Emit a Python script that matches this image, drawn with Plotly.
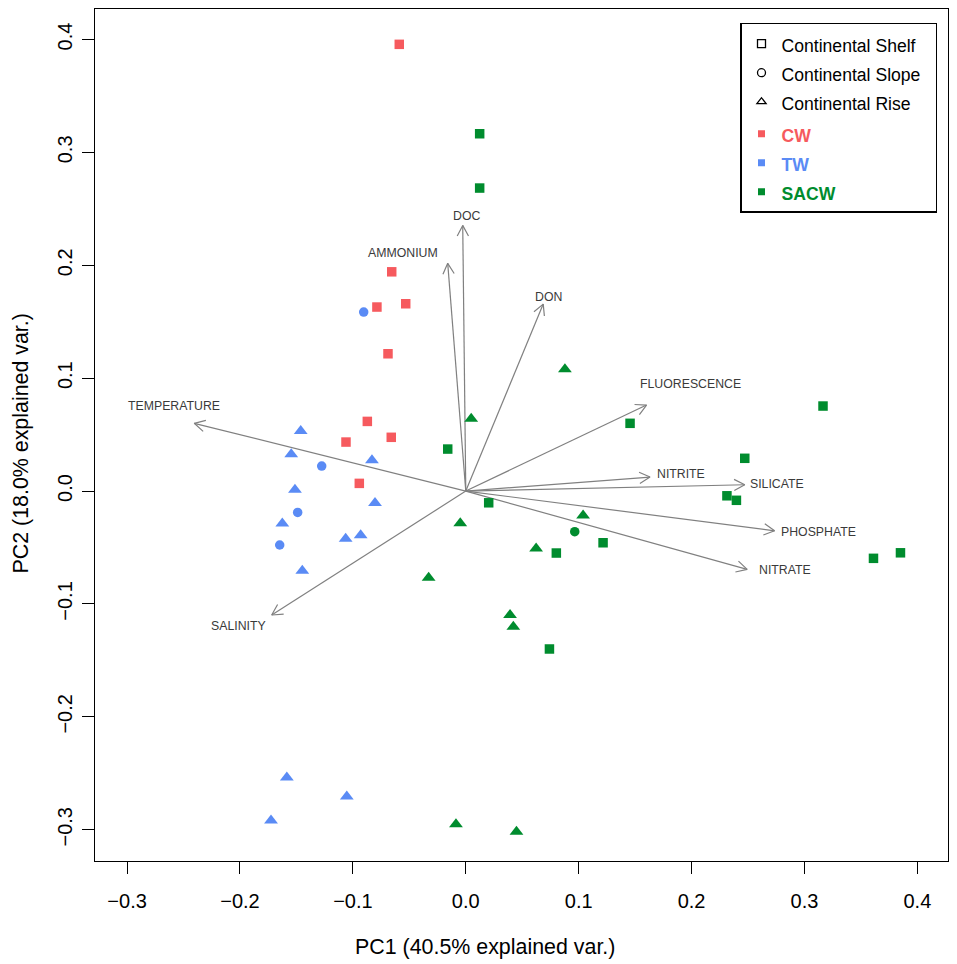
import math
import plotly.graph_objects as go

# PCA scores (PC1, PC2), water mass and shelf zone of each sample
pc1 = [-0.0589, -0.0656, -0.0787, -0.0532, -0.0689, -0.0872, -0.1061, -0.0660, -0.0943,
       -0.0904, -0.1276, -0.1489, -0.1648,
       -0.1462, -0.1546, -0.0831, -0.1513, -0.0804, -0.1625, -0.1064, -0.0931, -0.1448,
       -0.1585, -0.1054, -0.1725,
       0.0123, 0.0123, -0.0160, 0.0203, 0.1455, 0.3164, 0.2471, 0.2313, 0.2397, 0.1216,
       0.0802, 0.3611, 0.3850, 0.0741,
       0.0965,
       0.0878, 0.0048, -0.0049, 0.1039, 0.0623, -0.0329, 0.0392, 0.0421, -0.0087, 0.0449]
pc2 = [0.3957, 0.1942, 0.1630, 0.1659, 0.1216, 0.0617, 0.0434, 0.0476, 0.0068,
       0.1585, 0.0221, -0.0189, -0.0478,
       0.0533, 0.0326, 0.0273, 0.0011, -0.0105, -0.0288, -0.0423, -0.0391, -0.0707,
       -0.2538, -0.2706, -0.2918,
       0.3165, 0.2684, 0.0372, -0.0104, 0.0600, 0.0753, 0.0290, -0.0042, -0.0082, -0.0458,
       -0.0549, -0.0596, -0.0547, -0.1399,
       -0.0360,
       0.1079, 0.0640, -0.0285, -0.0217, -0.0509, -0.0769, -0.1097, -0.1203, -0.2951, -0.3019]
water = (["CW"] * 9 + ["TW"] * 16 + ["SACW"] * 25)
zone = (["Shelf"] * 9 + ["Slope"] * 4 + ["Rise"] * 12
        + ["Shelf"] * 14 + ["Slope"] * 1 + ["Rise"] * 10)

# variable loadings (arrow tips)
variables = ["TEMPERATURE", "SALINITY", "DOC", "AMMONIUM", "DON", "FLUORESCENCE",
             "NITRITE", "SILICATE", "PHOSPHATE", "NITRATE"]
load_x = [-0.2405, -0.1719, -0.0027, -0.0160, 0.0686, 0.1601, 0.1632, 0.2471, 0.2735, 0.2492]
load_y = [0.0600, -0.1098, 0.2353, 0.2017, 0.1656, 0.0762, 0.0124, 0.0056, -0.0352, -0.0694]

# label offsets from arrow tips, in pixels
label_shift = [(-20, 17), (-33, -11), (4, 9), (-45, 10), (5, 7), (44, 21),
               (31, 3), (32, 1), (44, -1), (38, -1)]

water_names = ["CW", "TW", "SACW"]
water_colors = {"CW": "#F65A5E", "TW": "#5A8BF5", "SACW": "#008C2E"}
zone_names = ["Shelf", "Slope", "Rise"]
zone_symbols = {"Shelf": "square", "Slope": "circle", "Rise": "triangle-up"}
zone_sizes = {"Shelf": 9.5, "Slope": 9.5, "Rise": 12}

FONT = "Liberation Sans, Arial, sans-serif"
# the page body adds 8px around the figure
W, H = 949, 956
ML, MR, MT, MB = 87, 9, 1, 103
xr = [-0.3284, 0.4271]
yr = [-0.3277, 0.4270]

fig = go.Figure()

# arrows: shafts and heads
sx = (W - ML - MR) / (xr[1] - xr[0])
sy = (H - MT - MB) / (yr[1] - yr[0])
head_len = 12
head_ang = math.radians(28)
ax_, ay_ = [], []
for tx, ty in zip(load_x, load_y):
    ax_ += [0, tx, None]
    ay_ += [0, ty, None]
    dx, dy = tx * sx, ty * sy
    n = math.hypot(dx, dy)
    ux, uy = dx / n, dy / n
    arms = []
    for s in (1, -1):
        c, si = math.cos(s * head_ang), math.sin(s * head_ang)
        rx = ux * c - uy * si
        ry = ux * si + uy * c
        arms.append((tx - head_len * rx / sx, ty - head_len * ry / sy))
    ax_ += [arms[0][0], tx, arms[1][0], None]
    ay_ += [arms[0][1], ty, arms[1][1], None]

fig.add_trace(go.Scatter(x=ax_, y=ay_, mode="lines",
                         line=dict(color="#808080", width=1.2),
                         showlegend=False, hoverinfo="skip"))

for i, v in enumerate(variables):
    fig.add_annotation(x=load_x[i], y=load_y[i], xref="x", yref="y", text=v,
                       showarrow=False, xshift=label_shift[i][0], yshift=label_shift[i][1],
                       font=dict(family=FONT, size=12.3, color="#3a3a3a"))

# sample points
for w in water_names:
    for z in zone_names:
        idx = [k for k in range(len(pc1)) if water[k] == w and zone[k] == z]
        if not idx:
            continue
        fig.add_trace(go.Scatter(
            x=[pc1[k] for k in idx], y=[pc2[k] for k in idx], mode="markers",
            marker=dict(symbol=zone_symbols[z], size=zone_sizes[z],
                        color=water_colors[w], line=dict(width=0)),
            showlegend=False, name=w + " " + z))

# legend entries
for z in zone_names:
    pad = "\u00a0\u00a0" if z == "Slope" else ""
    fig.add_trace(go.Scatter(
        x=[None], y=[None], mode="markers", legendgroup="zone",
        name='<span style="font-size:17.6px">Continental ' + z + pad + '</span>',
        marker=dict(symbol=zone_symbols[z] + "-open", size=8, color="black",
                    line=dict(width=1.3, color="black"))))
for w in water_names:
    fig.add_trace(go.Scatter(
        x=[None], y=[None], mode="markers", legendgroup="water",
        name='<span style="font-size:17.6px;color:' + water_colors[w] + '"><b>' + w + '</b></span>',
        marker=dict(symbol="square", size=7, color=water_colors[w])))

axis_common = dict(showgrid=False, zeroline=False, showline=True, mirror=True,
                   linecolor="black", linewidth=1.3, ticks="outside", ticklen=12,
                   tickwidth=1.3, tickcolor="black", tickformat=".1f",
                   tickvals=[-0.3, -0.2, -0.1, 0.0, 0.1, 0.2, 0.3, 0.4],
                   tickfont=dict(family=FONT, size=20, color="black"))

fig.update_layout(
    width=W, height=H,
    margin=dict(l=ML, r=MR, t=MT, b=MB, pad=0),
    plot_bgcolor="white", paper_bgcolor="white",
    font=dict(family=FONT, color="black"),
    xaxis=dict(range=xr, ticklabelstandoff=10, **axis_common),
    yaxis=dict(range=yr, tickangle=-90, ticklabelstandoff=2, **axis_common),
    legend=dict(x=(732 - ML) / (W - ML - MR), y=(H - MB - 14.7) / (H - MT - MB),
                xanchor="left", yanchor="top", bordercolor="black", borderwidth=1.5,
                bgcolor="white", font=dict(family=FONT, size=20, color="black"),
                tracegroupgap=3, itemsizing="trace"),
)

fig.add_annotation(text="PC1 (40.5% explained var.)", xref="paper", yref="paper",
                   x=(477 - ML) / (W - ML - MR), y=0, yanchor="middle", yshift=-86,
                   showarrow=False, font=dict(family=FONT, size=21.4, color="black"))
fig.add_annotation(text="PC2 (18.0% explained var.)", xref="paper", yref="paper",
                   x=0, y=0.49, xanchor="center", xshift=-74, textangle=-90,
                   showarrow=False, font=dict(family=FONT, size=21.4, color="black"))

fig.write_html("out.html")
